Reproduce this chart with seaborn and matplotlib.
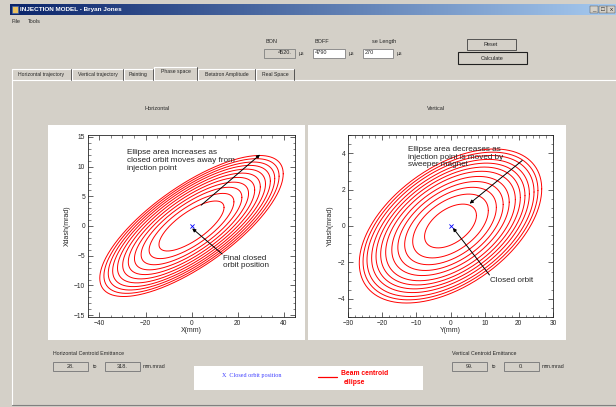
import numpy as np
import pandas as pd
import seaborn as sns
import matplotlib.pyplot as plt
from matplotlib.patches import Rectangle
from matplotlib.ticker import MultipleLocator
from matplotlib.colors import LinearSegmentedColormap

# ---- values ----
h_emittance = [40, 68, 96, 123, 151, 179, 207, 235, 262, 290, 318]   # mm.mrad, one per ring
v_emittance = [8, 17, 25, 33, 41, 50, 58, 66, 74, 83, 91, 99]
h_beta, h_alpha = 5.0, -1.1
v_beta, v_alpha = 7.2, -0.55
closed_orbit = (0.0, 0.0)

h_emit_range = ['28.', '318.']
v_emit_range = ['99.', '0.']
timing_labels = ['BON', 'BOFF', 'se Length']
timing_values = ['4520.', '4790', '270']
tab_names = ['Horizontal trajectory', 'Vertical trajectory', 'Painting',
             'Phase space', 'Betatron Amplitude', 'Real Space']

W, H = 616, 407
GREY = '#d4d0c8'
DARK = '#808080'


def ring_table(emits, beta, alpha):
    phi = np.linspace(0, 2 * np.pi, 361)
    parts = []
    for i, e in enumerate(emits):
        parts.append(pd.DataFrame({
            'pos': np.sqrt(e * beta) * np.cos(phi),
            'angle': -np.sqrt(e / beta) * (alpha * np.cos(phi) + np.sin(phi)),
            'ring': i,
        }))
    return pd.concat(parts, ignore_index=True)


h_df = ring_table(h_emittance, h_beta, h_alpha)
v_df = ring_table(v_emittance, v_beta, v_alpha)

sns.set_style('ticks')
plt.rcParams['font.family'] = ['Liberation Sans', 'DejaVu Sans']

fig = plt.figure(figsize=(W / 100, H / 100), dpi=100, facecolor=GREY)


def px_axes(l, t, r, b):
    return fig.add_axes([l / W, 1 - b / H, (r - l) / W, (b - t) / H])


# background "window" drawn in pixel coordinates
bg = px_axes(0, 0, W, H)
bg.set_facecolor(GREY)

grad = np.linspace(0, 1, 256).reshape(1, -1)
cmap = LinearSegmentedColormap.from_list('titlebar', ['#0a246a', '#a6caf0'])
bg.imshow(grad, cmap=cmap, extent=[10, 616, 15, 4], aspect='auto', zorder=1)
bg.add_patch(Rectangle((12, 6), 6, 7, fc='#e8c060', ec='#3060c0', lw=0.4, zorder=2))
bg.text(20, 9.6, 'INJECTION MODEL - Bryan Jones', color='white', fontsize=4.6,
        fontweight='bold', va='center', zorder=3)
for i, sym in enumerate(['_', '□', 'x']):
    x0 = 590 + i * 8.5
    bg.add_patch(Rectangle((x0, 6), 8, 7, fc=GREY, ec='#404040', lw=0.3, zorder=2))
    bg.text(x0 + 4, 9.6, sym, fontsize=4.5, ha='center', va='center', zorder=3)

bg.text(12, 21.5, 'File', fontsize=4, va='center')
bg.text(28, 21.5, 'Tools', fontsize=4, va='center')

# timing inputs
lab_x = [272, 322, 384]
box_x = [(264, 295), (313, 345), (363, 393)]
for lab, val, lx, (b0, b1), face in zip(timing_labels, timing_values, lab_x, box_x,
                                         [GREY, 'white', 'white']):
    bg.text(lx, 41.5, lab, fontsize=4, ha='center', va='center')
    bg.add_patch(Rectangle((b0, 48.5), b1 - b0, 9, fc=face, ec=DARK, lw=0.6))
    if face == GREY:
        bg.text(b1 - 3, 53, val, fontsize=4, ha='right', va='center')
    else:
        bg.text(b0 + 2, 53, val, fontsize=4, ha='left', va='center')
    bg.text(b1 + 6, 53.5, 'µs', fontsize=3.6, ha='center', va='center')

bg.add_patch(Rectangle((466.5, 38.5), 49.5, 11.5, fc=GREY, ec='#404040', lw=0.6))
bg.text(491, 44.3, 'Reset', fontsize=4, ha='center', va='center')
bg.add_patch(Rectangle((458, 52), 68.5, 12, fc=GREY, ec='#202020', lw=0.8))
bg.text(492, 58, 'Calculate', fontsize=4, ha='center', va='center')

# tabs
tab_x = [(12, 71), (72, 123), (124, 153), (154, 197), (198, 255), (256, 294)]
bg.plot([11.5, W], [79.5, 79.5], color='white', lw=0.8)
for name, (t0, t1) in zip(tab_names, tab_x):
    top = 66.5 if name == 'Phase space' else 69
    if name == 'Phase space':
        bg.add_patch(Rectangle((t0, top), t1 - t0, 80 - top, fc=GREY, ec='none', zorder=2))
    bg.plot([t0, t0, t1], [79.5, top, top], color='white', lw=0.8, zorder=3)
    bg.plot([t1, t1], [top, 79.5], color='#404040', lw=0.6, zorder=3)
    bg.text((t0 + t1) / 2, top + 5.3, name, fontsize=3.7, ha='center', va='center', zorder=4)
bg.plot([11.5, 11.5], [79.5, 405], color='white', lw=0.8)
bg.plot([11.5, W], [405, 405], color=DARK, lw=0.8)

bg.text(157, 109, 'Horizontal', fontsize=4, ha='center', va='center')
bg.text(436, 109, 'Vertical', fontsize=4, ha='center', va='center')

# white plot panels
bg.add_patch(Rectangle((48, 125), 257, 214.5, fc='white', ec='none'))
bg.add_patch(Rectangle((308, 125), 258, 214.5, fc='white', ec='none'))

# emittance read-outs
for title, vals, x0 in [('Horizontal Centroid Emittance', h_emit_range, 53),
                        ('Vertical Centroid Emittance', v_emit_range, 452)]:
    bg.text(x0, 353.5, title, fontsize=3.8, va='center')
    bg.add_patch(Rectangle((x0, 362), 35, 9, fc=GREY, ec=DARK, lw=0.7))
    bg.text(x0 + 17.5, 366.5, vals[0], fontsize=4, ha='center', va='center')
    bg.text(x0 + 42, 366, 'to', fontsize=3.8, ha='center', va='center')
    bg.add_patch(Rectangle((x0 + 52, 362), 34.5, 9, fc=GREY, ec=DARK, lw=0.7))
    bg.text(x0 + 69, 366.5, vals[1], fontsize=4, ha='center', va='center')
    bg.text(x0 + 90, 366, 'mm.mrad', fontsize=3.8, va='center')

# legend strip
bg.add_patch(Rectangle((194, 366), 228.5, 23.5, fc='white', ec='none'))
bg.text(221.5, 375.5, 'X  Closed orbit position', color='#4040ff', fontsize=4.4,
        family=['Liberation Serif'], va='center')
bg.plot([318, 337], [376.7, 376.7], color='red', lw=0.9)
bg.text(341, 373.5, 'Beam centroid', color='red', fontsize=4.9, fontweight='bold', va='center')
bg.text(343.5, 382, 'ellipse', color='red', fontsize=4.9, fontweight='bold', va='center')

bg.set_xlim(0, W)
bg.set_ylim(H, 0)
bg.axis('off')


def style_axes(ax, xmaj, xmin, ymaj, ymin):
    ax.xaxis.set_major_locator(MultipleLocator(xmaj))
    ax.xaxis.set_minor_locator(MultipleLocator(xmin))
    ax.yaxis.set_major_locator(MultipleLocator(ymaj))
    ax.yaxis.set_minor_locator(MultipleLocator(ymin))
    ax.tick_params(which='major', direction='in', top=True, right=True,
                   length=3.5, width=0.5, labelsize=4.8, pad=2)
    ax.tick_params(which='minor', direction='in', top=True, right=True,
                   length=1.8, width=0.4)
    for sp in ax.spines.values():
        sp.set_linewidth(0.6)
    ax.set_facecolor('white')


arrow = dict(arrowstyle='-|>', color='black', lw=0.7, mutation_scale=5,
             shrinkA=0, shrinkB=0)

# horizontal phase space
axh = px_axes(88, 135, 295, 317)
sns.lineplot(data=h_df, x='pos', y='angle', units='ring', estimator=None, sort=False,
             color='red', lw=0.7, ax=axh, legend=False)
sns.scatterplot(x=[closed_orbit[0]], y=[closed_orbit[1]], marker='x', color='blue',
                s=9, linewidth=0.6, ax=axh, zorder=5)
axh.set_xlim(-45, 45)
axh.set_ylim(-15.3, 15.3)
style_axes(axh, 20, 5, 5, 1)
axh.set_xlabel('X(mm)', fontsize=5, labelpad=0.5)
axh.set_ylabel('Xdash(mrad)', fontsize=5, labelpad=2.5)
axh.annotate('', xy=(29.8, 12.0), xytext=(4.2, 3.5), arrowprops=arrow)
axh.annotate('', xy=(0.3, -0.4), xytext=(13.3, -4.7), arrowprops=arrow)
axh.text(-28.2, 12.9, 'Ellipse area increases as\nclosed orbit moves away from\ninjection point',
         fontsize=5.9, ha='left', va='top', linespacing=1.15)
axh.text(13.8, -4.8, 'Final closed\norbit position', fontsize=5.9, ha='left', va='top',
         linespacing=1.15)

# vertical phase space
axv = px_axes(348, 135, 553, 317)
sns.lineplot(data=v_df, x='pos', y='angle', units='ring', estimator=None, sort=False,
             color='red', lw=0.7, ax=axv, legend=False)
sns.scatterplot(x=[closed_orbit[0]], y=[closed_orbit[1]], marker='x', color='blue',
                s=9, linewidth=0.6, ax=axv, zorder=5)
axv.set_xlim(-30, 30)
axv.set_ylim(-5, 5)
style_axes(axv, 10, 2, 2, 0.5)
axv.set_xlabel('Y(mm)', fontsize=5, labelpad=0.5)
axv.set_ylabel('Ydash(mrad)', fontsize=5, labelpad=2.5)
axv.annotate('', xy=(5.6, 1.23), xytext=(21.0, 3.6), arrowprops=arrow)
axv.annotate('', xy=(0.7, -0.1), xytext=(11.4, -2.69), arrowprops=arrow)
axv.text(-12.35, 4.4, 'Ellipse area decreases as\ninjection point is moved by\nsweeper magnet',
         fontsize=5.9, ha='left', va='top', linespacing=1.15)
axv.text(11.6, -3.02, 'Closed orbit', fontsize=5.9, ha='left', va='center')

fig.savefig('out.png', dpi=100, facecolor=GREY)
